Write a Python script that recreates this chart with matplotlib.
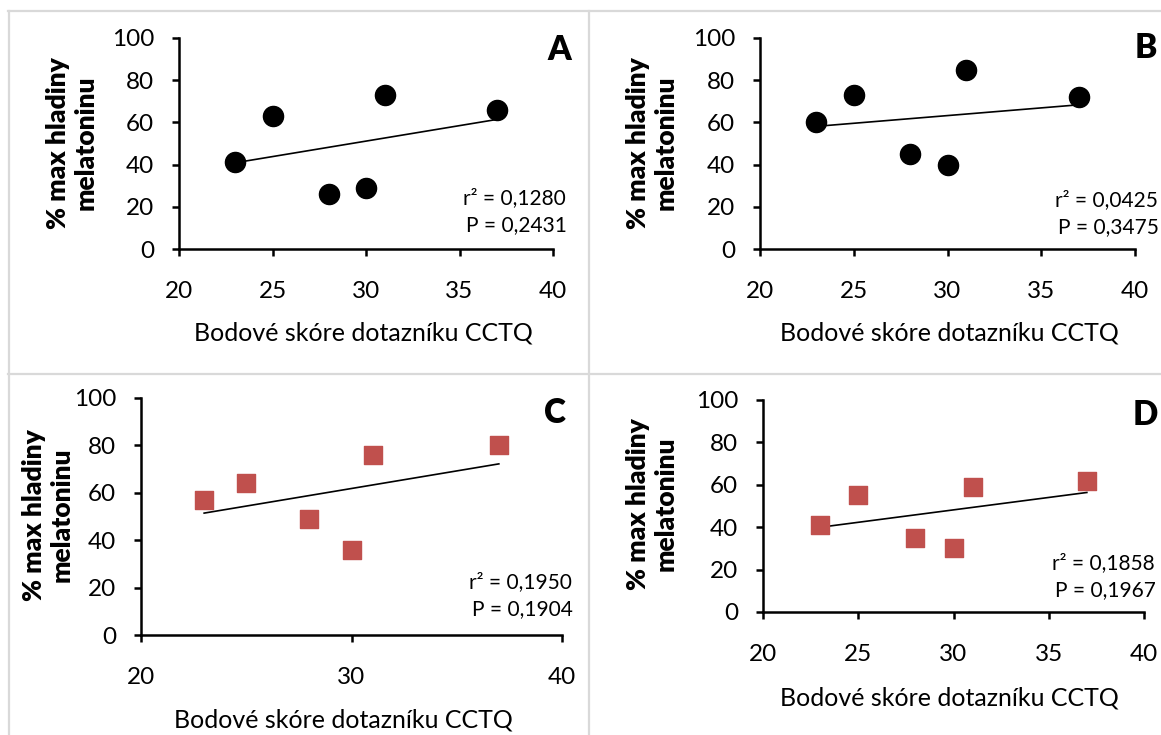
import numpy as np
import matplotlib
matplotlib.use("Agg")
import matplotlib.pyplot as plt
from matplotlib.lines import Line2D

plt.rcParams['font.family'] = ['Lato', 'DejaVu Sans']

# CCTQ score (same subjects in every panel)
score = [23, 25, 28, 30, 31, 37]

# % of max melatonin level, one list per panel
mel_a = [41, 63, 26, 29, 73, 66]
mel_b = [60, 73, 45, 40, 85, 72]
mel_c = [57, 64, 49, 36, 76, 80]
mel_d = [41, 55, 35, 30, 59, 62]

panel_names = ['A', 'B', 'C', 'D']
r2_text = ['0,1280', '0,0425', '0,1950', '0,1858']
p_text = ['0,2431', '0,3475', '0,1904', '0,1967']

xlabel = "Bodové skóre dotazníku CCTQ"
ylabel = "% max hladiny\nmelatoninu"

W, H = 1161, 735
fig = plt.figure(figsize=(W / 100, H / 100), dpi=100)


def fx(px):
    return px / W


def fy(py):
    return 1 - py / H


# panel layout in pixels: axes box, x ticks, label/text spots
panels = [
    dict(y=mel_a, box=(179, 553, 38, 249), xt=[20, 25, 30, 35, 40], mk='o',
         col='black', ylab=(72, 143), xlab=(363, 333), let=(559, 50), st=(463, 198)),
    dict(y=mel_b, box=(760, 1135, 38, 249), xt=[20, 25, 30, 35, 40], mk='o',
         col='black', ylab=(652, 143), xlab=(949, 333), let=(1146, 48), st=(1055, 200)),
    dict(y=mel_c, box=(141, 562, 398, 635), xt=[20, 30, 40], mk='s',
         col='#c0504d', ylab=(48, 515), xlab=(343, 720), let=(555, 413), st=(469, 582)),
    dict(y=mel_d, box=(763, 1144, 400, 612), xt=[20, 25, 30, 35, 40], mk='s',
         col='#c0504d', ylab=(652, 504), xlab=(949, 698), let=(1145, 415), st=(1052, 563)),
]

for i, p in enumerate(panels):
    l, r, t, b = p['box']
    ax = fig.add_axes([fx(l), fy(b), fx(r) - fx(l), fy(t) - fy(b)])
    x = np.array(score)
    y = np.array(p['y'])
    if p['mk'] == 'o':
        ax.scatter(x, y, s=210, marker='o', color=p['col'], zorder=3, clip_on=False)
    else:
        ax.scatter(x, y, s=160, marker='s', color=p['col'], zorder=3, clip_on=False)
    k, q = np.polyfit(x, y, 1)
    ax.plot([x.min(), x.max()], [k * x.min() + q, k * x.max() + q],
            color='black', lw=1.2, zorder=2)

    ax.set_xlim(20, 40)
    ax.set_ylim(0, 100)
    ax.set_xticks(p['xt'])
    ax.set_yticks([0, 20, 40, 60, 80, 100])
    for side in ['top', 'right']:
        ax.spines[side].set_visible(False)
    for side in ['left', 'bottom']:
        ax.spines[side].set_linewidth(1.8)
    ax.tick_params(axis='both', direction='out', length=5, width=1.8,
                   labelsize=17.5, colors='black')
    ax.tick_params(axis='x', pad=18)
    ax.tick_params(axis='y', pad=13)
    ax.patch.set_alpha(0)

    fig.text(fx(p['xlab'][0]), fy(p['xlab'][1]), xlabel, ha='center',
             va='center', fontsize=18)
    fig.text(fx(p['ylab'][0]), fy(p['ylab'][1]), ylabel, ha='center',
             va='center', rotation=90, fontsize=19, fontweight='heavy',
             linespacing=1.2)
    fig.text(fx(p['let'][0]), fy(p['let'][1]), panel_names[i], ha='center',
             va='center', fontsize=24, fontweight='heavy')
    sx, sy = p['st']
    fig.text(fx(sx), fy(sy), "r² = " + r2_text[i], ha='left', va='center',
             fontsize=15)
    fig.text(fx(sx + 3), fy(sy + 27), "P = " + p_text[i], ha='left',
             va='center', fontsize=15)

# light grey frame lines between panels
grey = '#d9d9d9'
for xs, ys in [([8, W], [11, 11]), ([8.5, 8.5], [11, H]),
               ([589, 589], [11, H]), ([8, W], [373.5, 373.5])]:
    fig.add_artist(Line2D([fx(v) for v in xs], [fy(v) for v in ys],
                          color=grey, lw=1.6))

fig.savefig('out.png', dpi=100)
